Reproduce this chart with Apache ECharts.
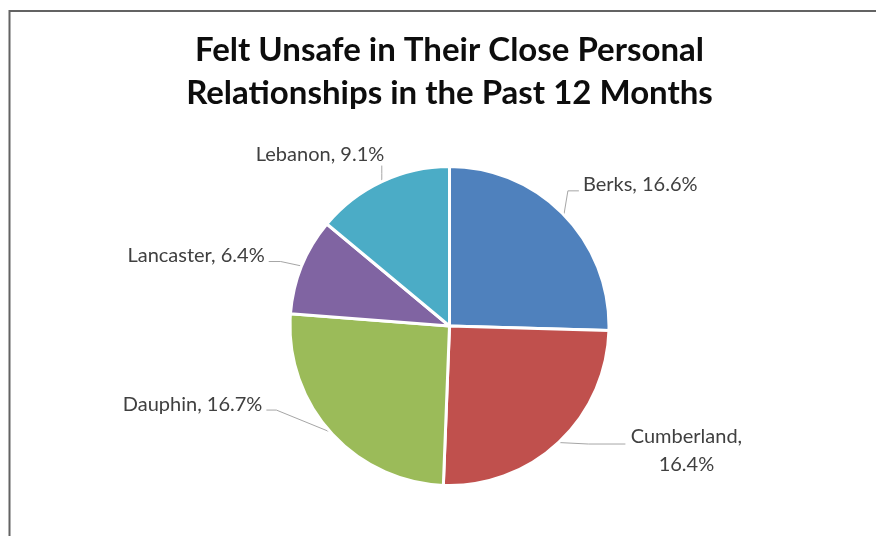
<!DOCTYPE html>
<html>
<head>
<meta charset="utf-8">
<title>Felt Unsafe in Their Close Personal Relationships</title>
<script src="https://cdn.jsdelivr.net/npm/echarts@6/dist/echarts.min.js"></script>
<style>
  html, body { margin: 0; padding: 0; background: #ffffff; }
  #chart { width: 876px; height: 536px; }
</style>
</head>
<body>
<div id="chart"></div>
<script>
// Counties and the share (%) who felt unsafe in close personal relationships
const counties = ['Berks', 'Cumberland', 'Dauphin', 'Lancaster', 'Lebanon'];
const percentages = [16.6, 16.4, 16.7, 6.4, 9.1];
const sliceColors = ['#4F81BD', '#C0504D', '#9BBB59', '#8064A2', '#4BACC6'];

// Leader-line bends and label anchors, relative to where each slice's
// mid-angle meets the rim.
const labelPlacement = {
  Berks:      { line: [[4, -24], [15, -24]],   text: [19, -30],   align: 'left' },
  Cumberland: { line: [[30, 1.5], [67, 1.5]],  text: [128, 8],    align: 'center', wrap: true },
  Dauphin:    { line: [[-54, -22], [-64, -22]], text: [-68, -28], align: 'right' },
  Lancaster:  { line: [[-21, -4.5], [-33, -4.5]], text: [-37, -10.5], align: 'right' },
  Lebanon:    { line: [[0, -8], [0, -16]],     text: [2.5, -27],  align: 'right' }
};

const chart = echarts.init(document.getElementById('chart'), null, { renderer: 'canvas' });

const pieData = counties.map((name, i) => ({
  name: name,
  value: percentages[i],
  itemStyle: { color: sliceColors[i] }
}));

chart.setOption({
  animation: false,
  backgroundColor: '#ffffff',
  title: {
    text: 'Felt Unsafe in Their Close Personal\nRelationships in the Past 12 Months',
    left: 449.5,
    textAlign: 'center',
    top: 29,
    padding: 0,
    textStyle: {
      fontFamily: 'Lato',
      fontWeight: 'bold',
      fontSize: 33,
      lineHeight: 43,
      color: '#0d0d0d'
    }
  },
  graphic: [{
    type: 'rect',
    silent: true,
    shape: { x: 9.5, y: 11, width: 900, height: 600 },
    style: { fill: 'none', stroke: '#636363', lineWidth: 2 }
  }],
  series: [{
    type: 'pie',
    center: [449.5, 326],
    radius: 159.5,
    startAngle: 90,
    clockwise: true,
    avoidLabelOverlap: false,
    itemStyle: { borderColor: '#ffffff', borderWidth: 3 },
    label: {
      show: true,
      position: 'outside',
      fontFamily: 'Lato',
      fontSize: 20,
      lineHeight: 28,
      color: '#404040',
      formatter: (p) => {
        const sep = labelPlacement[p.name].wrap ? ',\n' : ', ';
        return p.name + sep + p.value.toFixed(1) + '%';
      }
    },
    labelLine: {
      show: true,
      lineStyle: { color: '#a6a6a6', width: 1 }
    },
    labelLayout: (params) => {
      const name = counties[params.dataIndex];
      const place = labelPlacement[name];
      const rim = params.labelLinePoints[0];
      const pts = [rim.slice()].concat(place.line.map(d => [rim[0] + d[0], rim[1] + d[1]]));
      return {
        x: rim[0] + place.text[0],
        y: rim[1] + place.text[1],
        align: place.align,
        verticalAlign: 'middle',
        labelLinePoints: pts
      };
    },
    emphasis: { disabled: true },
    data: pieData
  }]
});
</script>
</body>
</html>
